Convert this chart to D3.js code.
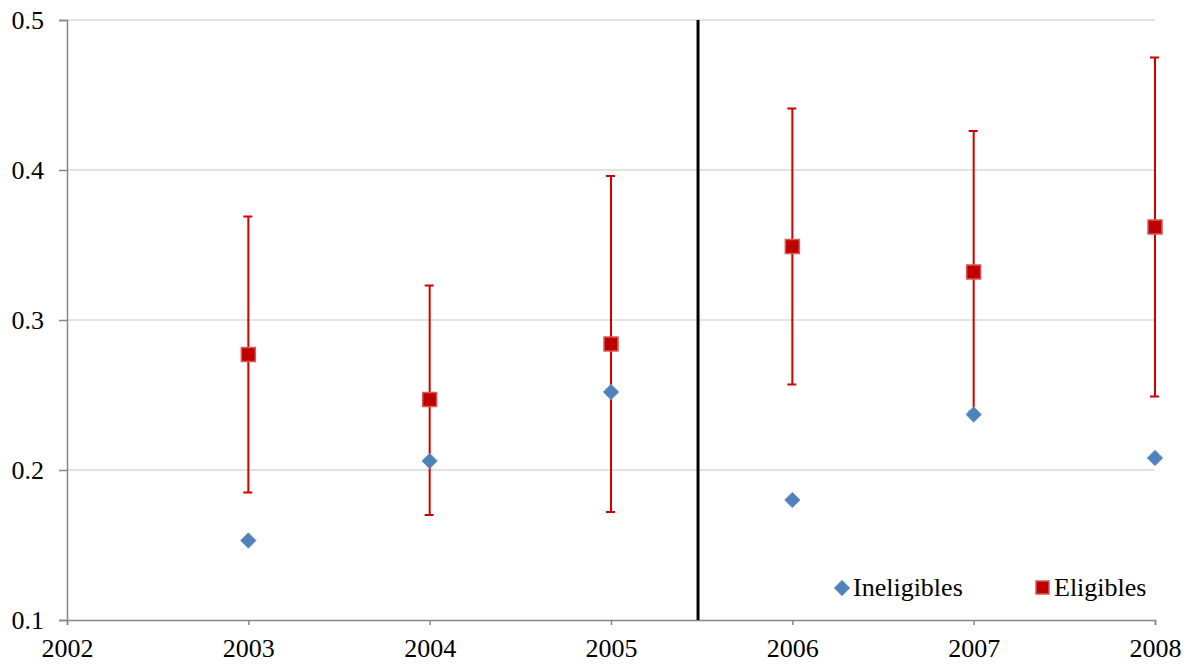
<!DOCTYPE html>
<html>
<head>
<meta charset="utf-8">
<script src="https://cdn.jsdelivr.net/npm/d3@7"></script>
<style>
body { margin: 0; background: #fff; }
text { font-family: "Liberation Serif", "Times New Roman", Times, serif; }
</style>
</head>
<body>
<svg id="chart" width="1188" height="667"></svg>
<script>
// values
var years = [2003, 2004, 2005, 2006, 2007, 2008]
var ineligibles = [0.153, 0.206, 0.252, 0.180, 0.237, 0.208]
var eligibles = [0.277, 0.247, 0.284, 0.349, 0.332, 0.362]
var eligHigh = [0.369, 0.323, 0.396, 0.441, 0.426, 0.475]
var eligLow = [0.185, 0.170, 0.172, 0.257, 0.239, 0.249]
var xTicks = [2002, 2003, 2004, 2005, 2006, 2007, 2008]
var yTicks = [0.1, 0.2, 0.3, 0.4, 0.5]
var breakYear = 2005.48

var svg = d3.select("#chart")

var x = d3.scaleLinear().domain([2002, 2008]).range([67, 1155])
var y = d3.scaleLinear().domain([0.1, 0.5]).range([620, 20])

// gridlines
svg.append("g")
    .selectAll("line")
    .data(yTicks.slice(1))
    .enter()
        .append("line")
        .attr("x1", x(2002))
        .attr("x2", x(2008))
        .attr("y1", function(d) {return y(d)})
        .attr("y2", function(d) {return y(d)})
        .attr("stroke", "#d9d9d9")
        .attr("stroke-width", 1.3)

// axes
var xAxis = svg.append("g")
    .attr("transform", "translate(0," + y(0.1) + ")")
    .call(d3.axisBottom(x).tickValues(xTicks).tickFormat(d3.format("d")).tickSize(5).tickPadding(14))
var yAxis = svg.append("g")
    .attr("transform", "translate(" + x(2002) + ",0)")
    .call(d3.axisLeft(y).tickValues(yTicks).tickFormat(d3.format(".1f")).tickSize(8).tickPadding(15))

;[xAxis, yAxis].forEach(function(a) {
    a.attr("font-family", null).attr("font-size", null)
    a.select(".domain").attr("stroke", "#868686").attr("stroke-width", 1.5)
    a.selectAll(".tick line").attr("stroke", "#868686").attr("stroke-width", 1.5)
    a.selectAll(".tick text").attr("font-size", 26).attr("fill", "#000")
})
xAxis.selectAll(".tick text").attr("dy", "0.71em")

// break line
svg.append("line")
    .attr("x1", x(breakYear)).attr("x2", x(breakYear))
    .attr("y1", y(0.5)).attr("y2", y(0.1))
    .attr("stroke", "#000").attr("stroke-width", 3)

// error bars
var bars = svg.append("g").selectAll("g")
    .data(years)
    .enter()
        .append("g")
bars.append("line")
    .attr("x1", function(d) {return x(d)})
    .attr("x2", function(d) {return x(d)})
    .attr("y1", function(d, i) {return y(eligHigh[i])})
    .attr("y2", function(d, i) {return y(eligLow[i])})
    .attr("stroke", "#d00000").attr("stroke-width", 2)
bars.append("line")
    .attr("x1", function(d) {return x(d) - 5})
    .attr("x2", function(d) {return x(d) + 4})
    .attr("y1", function(d, i) {return y(eligHigh[i])})
    .attr("y2", function(d, i) {return y(eligHigh[i])})
    .attr("stroke", "#d00000").attr("stroke-width", 2)
bars.append("line")
    .attr("x1", function(d) {return x(d) - 5})
    .attr("x2", function(d) {return x(d) + 4})
    .attr("y1", function(d, i) {return y(eligLow[i])})
    .attr("y2", function(d, i) {return y(eligLow[i])})
    .attr("stroke", "#d00000").attr("stroke-width", 2)

// ineligibles
var diamond = d3.symbol().type(d3.symbolDiamond2).size(150)
svg.append("g").selectAll("path")
    .data(years)
    .enter()
        .append("path")
        .attr("d", diamond)
        .attr("transform", function(d, i) {return "translate(" + x(d) + "," + y(ineligibles[i]) + ")"})
        .attr("fill", "#4f81bd")
        .attr("stroke", "#6f97c8").attr("stroke-width", 1)

// eligibles
svg.append("g").selectAll("rect")
    .data(years)
    .enter()
        .append("rect")
        .attr("x", function(d) {return x(d) - 7})
        .attr("y", function(d, i) {return y(eligibles[i]) - 7})
        .attr("width", 14).attr("height", 14)
        .attr("fill", "#c00000")
        .attr("stroke", "#d65a5a").attr("stroke-width", 1.5)

// legend
var legend = svg.append("g")
legend.append("path")
    .attr("d", diamond)
    .attr("transform", "translate(842,588)")
    .attr("fill", "#4f81bd").attr("stroke", "#6f97c8")
legend.append("text")
    .attr("x", 853).attr("y", 596)
    .attr("font-size", 26)
    .text("Ineligibles")
legend.append("rect")
    .attr("x", 1036).attr("y", 581).attr("width", 13).attr("height", 13)
    .attr("fill", "#c00000").attr("stroke", "#d65a5a").attr("stroke-width", 1.5)
legend.append("text")
    .attr("x", 1054).attr("y", 596)
    .attr("font-size", 26)
    .text("Eligibles")
</script>
</body>
</html>
